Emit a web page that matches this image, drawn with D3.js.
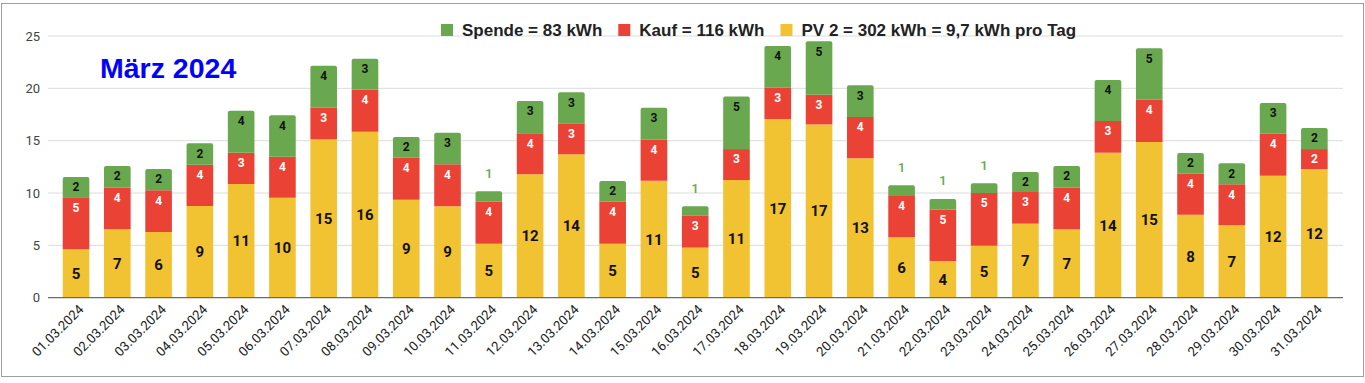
<!DOCTYPE html>
<html>
<head>
<meta charset="utf-8">
<script src="https://cdn.jsdelivr.net/npm/d3@7"></script>
<style>
    body { margin: 0; background: #fff; }
</style>
</head>
<body>
<script>
const days = ["01.03.2024", "02.03.2024", "03.03.2024", "04.03.2024", "05.03.2024", "06.03.2024",
    "07.03.2024", "08.03.2024", "09.03.2024", "10.03.2024", "11.03.2024", "12.03.2024",
    "13.03.2024", "14.03.2024", "15.03.2024", "16.03.2024", "17.03.2024", "18.03.2024",
    "19.03.2024", "20.03.2024", "21.03.2024", "22.03.2024", "23.03.2024", "24.03.2024",
    "25.03.2024", "26.03.2024", "27.03.2024", "28.03.2024", "29.03.2024", "30.03.2024", "31.03.2024"];

// kWh per day
const pv = [4.62, 6.53, 6.27, 8.76, 10.86, 9.55, 15.13, 15.86, 9.36, 8.73, 5.16, 11.79, 13.70, 5.16, 11.17, 4.78,
    11.24, 17.07, 16.55, 13.31, 5.77, 3.51, 4.97, 7.07, 6.53, 13.85, 14.87, 7.93, 6.91, 11.65, 12.29];
const kauf = [4.97, 3.98, 3.99, 3.94, 2.99, 3.92, 3.02, 4.04, 4.01, 4.01, 4.01, 3.92, 2.96, 4.01, 3.92, 3.06,
    2.96, 2.99, 2.84, 3.95, 3.94, 4.89, 5.03, 3.03, 3.98, 3.03, 4.04, 3.91, 3.92, 4.01, 1.91];
const spende = [1.94, 2.07, 2.03, 2.05, 4.01, 3.95, 4.01, 2.93, 1.98, 3.02, 0.99, 3.09, 2.96, 1.98, 3.06, 0.9,
    5.03, 3.98, 5.1, 3.03, 1.03, 1.03, 0.93, 1.91, 2.07, 3.91, 4.91, 1.98, 2.01, 2.94, 2.01];

const seriesKeys = ["pv", "kauf", "spende"];
const seriesNames = ["PV 2 = 302 kWh = 9,7 kWh pro Tag", "Kauf = 116 kWh", "Spende = 83 kWh"];
const seriesColors = ["#f1c232", "#ea4335", "#6aa84f"];
const yTicks = [0, 5, 10, 15, 20, 25];
const title = "März 2024";

const svgWidth = 1365;
const svgHeight = 383;

window.onload = main;

function main() {
    const rows = days.map((d, i) => ({day: d, pv: pv[i], kauf: kauf[i], spende: spende[i]}));

    const svg = d3.select("body")
        .append("svg")
        .attr("width", svgWidth)
        .attr("height", svgHeight)
        .style("display", "block");

    // outer chart frame
    svg.append("rect")
        .attr("x", 1.5).attr("y", 3.5)
        .attr("width", 1362).attr("height", 373)
        .style("fill", "#fff")
        .style("stroke", "#9e9e9e");

    const x = d3.scaleBand()
        .domain(days)
        .range([55.4, 1335])
        .paddingInner(0.355)
        .paddingOuter(0.1775);

    const y = d3.scaleLinear()
        .domain([0, 25])
        .range([297.7, 36]);

    // grid
    svg.append("g")
        .selectAll("line")
        .data(yTicks.filter(t => t > 0))
        .join("line")
        .attr("x1", 48).attr("x2", 1343)
        .attr("y1", d => y(d)).attr("y2", d => y(d))
        .style("stroke", "#dcdcdc")
        .style("stroke-width", 1);

    svg.append("g")
        .selectAll("text")
        .data(yTicks)
        .join("text")
        .attr("x", 40)
        .attr("y", d => y(d))
        .attr("dy", "0.36em")
        .attr("text-anchor", "end")
        .style("font-family", "Roboto, Arial, sans-serif")
        .style("font-size", "13px")
        .style("fill", "#444")
        .text(d => d);

    const stack = d3.stack().keys(seriesKeys);
    const layers = stack(rows);

    const layerG = svg.append("g")
        .selectAll("g")
        .data(layers)
        .join("g")
        .style("fill", (d, i) => seriesColors[i]);

    layerG.selectAll("path")
        .data((d, i) => d.map(s => ({s: s, top: i === layers.length - 1})))
        .join("path")
        .attr("d", d => barPath(x(d.s.data.day), y(d.s[1]), x.bandwidth(), y(d.s[0]) - y(d.s[1]), d.top ? 2 : 0));

    // baseline
    svg.append("line")
        .attr("x1", 48).attr("x2", 1343)
        .attr("y1", y(0)).attr("y2", y(0))
        .style("stroke", "#6b6b6b")
        .style("stroke-width", 1.3);

    // value labels
    const labelG = svg.append("g")
        .style("font-family", "Roboto, Arial, sans-serif")
        .style("user-select", "none");

    layers.forEach((layer, li) => {
        layer.forEach(s => {
            const v = s[1] - s[0];
            const cx = x(s.data.day) + x.bandwidth() / 2;
            const h = y(s[0]) - y(s[1]);
            const t = labelG.append("text")
                .attr("x", cx)
                .attr("text-anchor", "middle")
                .attr("dy", "0.36em")
                .text(Math.round(v));
            if (li === 0) {
                t.attr("y", (y(s[0]) + y(s[1])) / 2)
                    .style("font-size", "15px")
                    .style("font-weight", "bold")
                    .style("fill", "#111");
            } else if (h < 15) {
                // too small to hold the number: put it above the bar
                t.attr("y", y(s[1]) - 18.5)
                    .style("font-size", "13.5px")
                    .style("font-weight", "500")
                    .style("fill", seriesColors[li]);
            } else {
                t.attr("y", y(s[1]) + 10)
                    .style("font-size", "12px")
                    .style("font-weight", "bold")
                    .style("fill", li === 1 ? "#fff" : "#111");
            }
        });
    });

    // x axis labels
    svg.append("g")
        .selectAll("text")
        .data(days)
        .join("text")
        .attr("transform", d => `translate(${x(d) + x.bandwidth() / 2 + 5}, 307) rotate(-45)`)
        .attr("text-anchor", "end")
        .attr("dy", "0.36em")
        .style("font-family", "Roboto, Arial, sans-serif")
        .style("font-size", "13.2px")
        .style("fill", "#222")
        .text(d => d);

    // title
    svg.append("text")
        .attr("x", 100)
        .attr("y", 78)
        .style("font-family", "'Liberation Sans', Arial, sans-serif")
        .style("font-size", "28.5px")
        .style("font-weight", "bold")
        .style("fill", "#0000ff")
        .text(title);

    // legend, drawn from the top series down
    const legend = svg.append("g")
        .style("font-family", "'Liberation Sans', Arial, sans-serif")
        .style("font-size", "17px")
        .style("font-weight", "bold");
    let lx = 441;
    for (let i = seriesKeys.length - 1; i >= 0; i--) {
        legend.append("rect")
            .attr("x", lx).attr("y", 24)
            .attr("width", 12).attr("height", 12)
            .style("fill", seriesColors[i]);
        const txt = legend.append("text")
            .attr("x", lx + 21)
            .attr("y", 36)
            .style("fill", "#222")
            .text(seriesNames[i]);
        lx += 21 + txt.node().getComputedTextLength() + 16;
    }
}

// rectangle with optional rounded top corners
function barPath(x0, y0, w, h, r) {
    if (r === 0) return `M${x0},${y0}h${w}v${h}h${-w}Z`;
    return `M${x0},${y0 + h}V${y0 + r}Q${x0},${y0} ${x0 + r},${y0}H${x0 + w - r}Q${x0 + w},${y0} ${x0 + w},${y0 + r}V${y0 + h}Z`;
}
</script>
</body>
</html>
